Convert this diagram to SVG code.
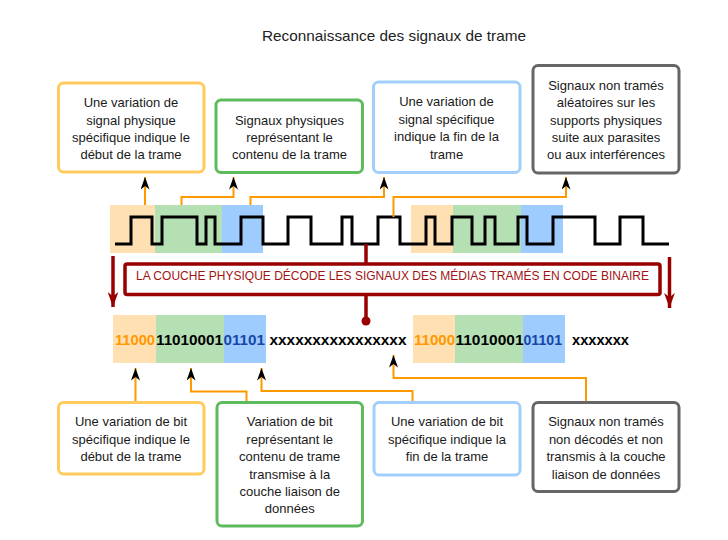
<svg xmlns="http://www.w3.org/2000/svg" width="728" height="540" viewBox="0 0 728 540">
<defs>
<style>
.box{fill:#fff;stroke-width:3}
.yel{stroke:#FFCB5C}
.grn{stroke:#5DBB5D}
.blu{stroke:#A2CFFA}
.gry{stroke:#666}
.t{font-family:"Liberation Sans",Arial,sans-serif;font-size:13px;fill:#1a1a1a;text-anchor:middle}
.bin{font-family:"Liberation Sans",Arial,sans-serif;font-size:15.5px;font-weight:bold}
.con{fill:none;stroke:#FF9900;stroke-width:2}
.red{fill:none;stroke:#990000;stroke-width:3.5}
</style>
<marker id="ah" viewBox="0 0 14 10" refX="14" refY="5" markerWidth="14" markerHeight="9" markerUnits="userSpaceOnUse" orient="auto">
<path d="M0,0 L14,5 L0,10 L4,5 Z" fill="#000"/>
</marker>
<marker id="rh" viewBox="0 0 14 10" refX="14" refY="5" markerWidth="15" markerHeight="11" markerUnits="userSpaceOnUse" orient="auto">
<path d="M0,0 L14,5 L0,10 L4,5 Z" fill="#990000"/>
</marker>
</defs>
<rect width="728" height="540" fill="#fff"/>
<text x="262" y="40.5" font-family="'Liberation Sans',Arial,sans-serif" font-size="15" fill="#222" textLength="264" lengthAdjust="spacingAndGlyphs">Reconnaissance des signaux de trame</text>

<g id="signal">
<rect x="110" y="205" width="45" height="48" fill="#FFE0B3"/>
<rect x="155" y="205" width="67" height="48" fill="#B4E0B4"/>
<rect x="222" y="205" width="41" height="48" fill="#9ECCFF"/>
<rect x="411" y="205" width="42" height="48" fill="#FFE0B3"/>
<rect x="453" y="205" width="68" height="48" fill="#B4E0B4"/>
<rect x="521" y="205" width="42" height="48" fill="#9ECCFF"/>
<path d="M115,244 H131 V217 H152 V244 H162 V217 H197 V244 H206 V217 H215 V244 H241 V217 H263 V244 H288 V217 H311 V244 H342 V217 H352 V244 H378 V217 H400 V244 H426 V217 H435 V244 H452 V217 H472 V244 H485 V217 H495 V244 H518 V217 H527 V244 H553 V217 H595 V244 H620 V217 H643 V244 H669" fill="none" stroke="#000" stroke-width="3"/>
</g>

<g id="binary">
<rect x="113" y="315" width="43" height="48" fill="#FFE0B3"/>
<rect x="156" y="315" width="68" height="48" fill="#B4E0B4"/>
<rect x="224" y="315" width="42" height="48" fill="#9ECCFF"/>
<rect x="413" y="315" width="42" height="48" fill="#FFE0B3"/>
<rect x="455" y="315" width="68" height="48" fill="#B4E0B4"/>
<rect x="523" y="315" width="42" height="48" fill="#9ECCFF"/>
<text class="bin" x="115" y="345" fill="#FF9900" textLength="40" lengthAdjust="spacingAndGlyphs">11000</text>
<text class="bin" x="156" y="345" fill="#000" textLength="67" lengthAdjust="spacingAndGlyphs">11010001</text>
<text class="bin" x="223.5" y="345" fill="#1747A6" textLength="41.5" lengthAdjust="spacingAndGlyphs">01101</text>
<text class="bin" x="269.5" y="345" fill="#000" textLength="137" lengthAdjust="spacingAndGlyphs">xxxxxxxxxxxxxxxx</text>
<text class="bin" x="414" y="345" fill="#FF9900" textLength="41" lengthAdjust="spacingAndGlyphs">11000</text>
<text class="bin" x="455.5" y="345" fill="#000" textLength="68" lengthAdjust="spacingAndGlyphs">11010001</text>
<text class="bin" x="523.5" y="345" fill="#1747A6" textLength="38.5" lengthAdjust="spacingAndGlyphs">01101</text>
<text class="bin" x="572" y="345" fill="#000" textLength="57" lengthAdjust="spacingAndGlyphs">xxxxxxx</text>
</g>

<g id="decode">
<rect x="125" y="264" width="535" height="30.5" rx="2" class="red"/>
<text x="136" y="279.5" font-family="'Liberation Sans',Arial,sans-serif" font-size="12" fill="#9E1414" textLength="513" lengthAdjust="spacingAndGlyphs">LA COUCHE PHYSIQUE DÉCODE LES SIGNAUX DES MÉDIAS TRAMÉS EN CODE BINAIRE</text>
</g>

<g id="connectors">
<path class="red" d="M366,244 V264"/>
<path class="red" d="M366,295 V320"/>
<circle cx="366" cy="321" r="4.5" fill="#990000"/>
<path class="red" d="M113,256 V307" marker-end="url(#rh)"/>
<path class="red" d="M669.5,257 V308" marker-end="url(#rh)"/>
<path class="con" d="M145,205 V177" marker-end="url(#ah)"/>
<path class="con" d="M181.5,205 V197 H233.5 V177" marker-end="url(#ah)"/>
<path class="con" d="M250.5,205 V197 H384 V177" marker-end="url(#ah)"/>
<path class="con" d="M393.5,217 V197 H566 V177" marker-end="url(#ah)"/>
<path class="con" d="M135.5,402 V368" marker-end="url(#ah)"/>
<path class="con" d="M246.5,402 V391.5 H191 V368" marker-end="url(#ah)"/>
<path class="con" d="M412.5,402 V391 H261.5 V368" marker-end="url(#ah)"/>
<path class="con" d="M586,402 V378 H393.5 V355" marker-end="url(#ah)"/>
</g>

<g id="box1"><rect class="box yel" x="58.5" y="83" width="145.5" height="89" rx="5"/>
<text class="t" x="131"><tspan x="131" y="107">Une variation de</tspan><tspan x="131" y="124.5">signal physique</tspan><tspan x="131" y="142">spécifique indique le</tspan><tspan x="131" y="159">début de la trame</tspan></text></g>
<g id="box2"><rect class="box grn" x="216" y="100" width="146.5" height="72.5" rx="5"/>
<text class="t"><tspan x="289.5" y="124.5">Signaux physiques</tspan><tspan x="289.5" y="142">représentant le</tspan><tspan x="289.5" y="159">contenu de la trame</tspan></text></g>
<g id="box3"><rect class="box blu" x="373.5" y="82" width="146.5" height="90.5" rx="5"/>
<text class="t"><tspan x="446.5" y="106">Une variation de</tspan><tspan x="446.5" y="123.5">signal spécifique</tspan><tspan x="446.5" y="141">indique la fin de la</tspan><tspan x="446.5" y="158.5">trame</tspan></text></g>
<g id="box4"><rect class="box gry" x="533" y="65.5" width="146" height="107.5" rx="5"/>
<text class="t"><tspan x="606" y="89.5">Signaux non tramés</tspan><tspan x="606" y="107">aléatoires sur les</tspan><tspan x="606" y="124.5">supports physiques</tspan><tspan x="606" y="142">suite aux parasites</tspan><tspan x="606" y="159">ou aux interférences</tspan></text></g>

<g id="box5"><rect class="box yel" x="58.5" y="402.5" width="145.5" height="71.5" rx="5"/>
<text class="t"><tspan x="131" y="426">Une variation de bit</tspan><tspan x="131" y="443.5">spécifique indique le</tspan><tspan x="131" y="461">début de la trame</tspan></text></g>
<g id="box6"><rect class="box grn" x="217" y="402.5" width="145.5" height="123.5" rx="5"/>
<text class="t"><tspan x="289.7" y="426">Variation de bit</tspan><tspan x="289.7" y="443.5">représentant le</tspan><tspan x="289.7" y="461">contenu de trame</tspan><tspan x="289.7" y="478.5">transmise à la</tspan><tspan x="289.7" y="496">couche liaison de</tspan><tspan x="289.7" y="513">données</tspan></text></g>
<g id="box7"><rect class="box blu" x="374" y="402.5" width="146" height="72.5" rx="5"/>
<text class="t"><tspan x="447" y="426">Une variation de bit</tspan><tspan x="447" y="443.5">spécifique indique la</tspan><tspan x="447" y="461">fin de la trame</tspan></text></g>
<g id="box8"><rect class="box gry" x="533" y="402.5" width="146" height="89" rx="5"/>
<text class="t"><tspan x="606" y="426">Signaux non tramés</tspan><tspan x="606" y="443.5">non décodés et non</tspan><tspan x="606" y="461">transmis à la couche</tspan><tspan x="606" y="478.5">liaison de données</tspan></text></g>
</svg>
